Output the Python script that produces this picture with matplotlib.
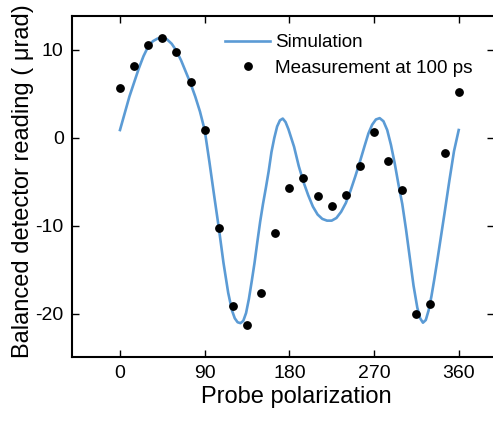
import matplotlib
matplotlib.use('Agg')
import matplotlib.pyplot as plt

plt.rcParams['font.family'] = ['Liberation Sans', 'DejaVu Sans']
plt.rcParams['axes.unicode_minus'] = False

# simulation curve
sim_x = [0, 5, 10, 15, 20, 25, 30, 35, 40, 45, 50, 55, 60, 65, 70, 75, 80, 85,
         90, 95, 100, 105, 110, 115, 119, 122, 125, 128, 131, 134, 137, 140,
         143, 146, 149, 152, 155, 158, 161, 164, 167, 170, 173, 176, 179, 182,
         185, 190, 195, 200, 205, 210, 215, 220, 225, 230, 235, 240, 245, 250,
         255, 260, 264, 268, 272, 276, 280, 284, 288, 292, 296, 300, 304, 308,
         312, 316, 319, 322, 325, 328, 331, 334, 337, 340, 345, 350, 355, 360]
sim_y = [0.9, 2.8, 4.7, 6.3, 7.9, 9.3, 10.4, 11.0, 11.3, 11.35, 11.2, 10.7,
         9.9, 8.8, 7.5, 6.2, 4.7, 3.0, 0.9, -2.7, -6.5, -10.2, -14.2, -17.6,
         -19.6, -20.5, -20.95, -21.05, -20.8, -19.9, -18.3, -16.3, -14.2,
         -11.8, -9.5, -7.5, -5.7, -3.8, -1.6, 0.0, 1.3, 2.0, 2.2, 1.8, 1.0,
         0.0, -1.0, -3.2, -5.0, -6.5, -7.8, -8.7, -9.2, -9.4, -9.4, -9.1,
         -8.4, -7.4, -6.0, -4.4, -2.7, -0.9, 0.5, 1.5, 2.1, 2.25, 1.9, 0.9,
         -0.8, -2.9, -5.3, -7.5, -10.4, -13.6, -16.8, -19.3, -20.5, -21.0,
         -20.7, -19.6, -18.0, -16.1, -14.1, -12.0, -8.5, -4.9, -1.5, 0.9]

# measurement at 100 ps
meas_x = [0, 15, 30, 45, 60, 75, 90, 105, 120, 135, 150, 165, 180, 195, 210,
          225, 240, 255, 270, 285, 300, 315, 330, 345, 360]
meas_y = [5.7, 8.15, 10.6, 11.4, 9.8, 6.4, 0.95, -10.2, -19.1, -21.3, -17.6,
          -10.8, -5.7, -4.6, -6.6, -7.7, -6.5, -3.2, 0.7, -2.6, -5.9, -20.0,
          -18.9, -1.7, 5.2]

xticks = [0, 90, 180, 270, 360]
yticks = [10, 0, -10, -20]

fig = plt.figure(figsize=(4.93, 4.23), dpi=100)
ax = fig.add_axes([72/493, 1-357/423, (494-72)/493, (357-16)/423])

ax.plot(sim_x, sim_y, color='#5b9bd5', lw=1.9, label='Simulation')
ax.plot(meas_x, meas_y, 'o', color='black', ms=5.3, label='Measurement at 100 ps')

ax.set_xlim(-51, 397.5)
ax.set_ylim(-24.9, 13.86)
ax.set_xticks(xticks)
ax.set_yticks(yticks)
ax.tick_params(direction='in', top=True, right=True, length=5, width=1,
               labelsize=14)
ax.tick_params(axis='y', pad=6)
ax.tick_params(axis='x', pad=6)
for s in ax.spines.values():
    s.set_linewidth(1.5)

ax.set_xlabel('Probe polarization', fontsize=17)
ax.set_ylabel('Balanced detector reading ( μrad)', fontsize=17)
ax.xaxis.set_label_coords((296.5-72)/422, (357-385.5)/341)
ax.yaxis.set_label_coords((34.5-72)/422, (357-181)/341)

ax.legend(loc='upper left', bbox_to_anchor=(225/493, 1-34/423),
          bbox_transform=fig.transFigure, frameon=False, fontsize=13.6,
          handlelength=2.4, handletextpad=0.25, labelspacing=0.45,
          borderpad=0, borderaxespad=0)

fig.savefig('out.png', dpi=100)
